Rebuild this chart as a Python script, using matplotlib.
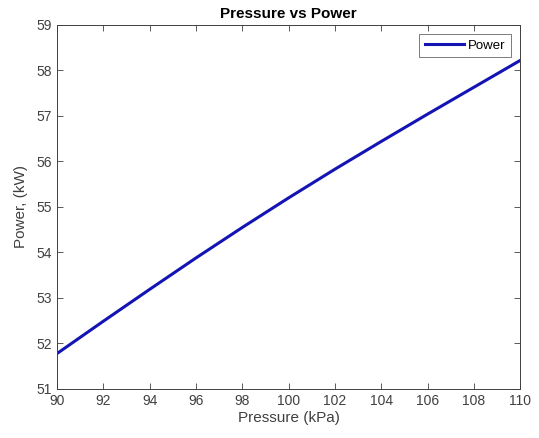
import matplotlib
matplotlib.use('Agg')
import matplotlib.pyplot as plt

# pressure (kPa) and power (kW)
pressure = [90, 92, 94, 96, 98, 100, 102, 104, 106, 108, 110]
power = [51.78, 52.49, 53.19, 53.88, 54.55, 55.20, 55.83, 56.44, 57.04, 57.63, 58.22]

plt.rcParams['font.family'] = ['Liberation Sans', 'DejaVu Sans']

fig = plt.figure(figsize=(5.39, 4.38), dpi=100)
ax = fig.add_axes([0.106, 0.112, 0.859, 0.831])

ax.plot(pressure, power, color='#1414b4', lw=2.2, label='Power')
ax.set_xlim(90, 110)
ax.set_ylim(51, 59)
ax.set_xticks(range(90, 111, 2))
ax.set_yticks(range(51, 60))

ax.tick_params(direction='in', top=True, right=True, labelsize=10,
               colors='#404040', length=4, width=0.6)
for s in ax.spines.values():
    s.set_color('#404040')
    s.set_linewidth(0.7)

ax.set_title('Pressure vs Power', fontsize=11, fontweight='bold', pad=5)
ax.set_xlabel('Pressure (kPa)', fontsize=11, color='#404040', labelpad=2)
ax.set_ylabel('Power, (kW)', fontsize=11, color='#404040', labelpad=6)

leg = ax.legend(loc='upper right', fontsize=9.5, handlelength=3.0, fancybox=False,
                borderaxespad=0.7, handletextpad=0.3, borderpad=0.4)
leg.get_frame().set_edgecolor('#404040')
leg.get_frame().set_linewidth(0.6)

plt.savefig('out.png', dpi=100)
